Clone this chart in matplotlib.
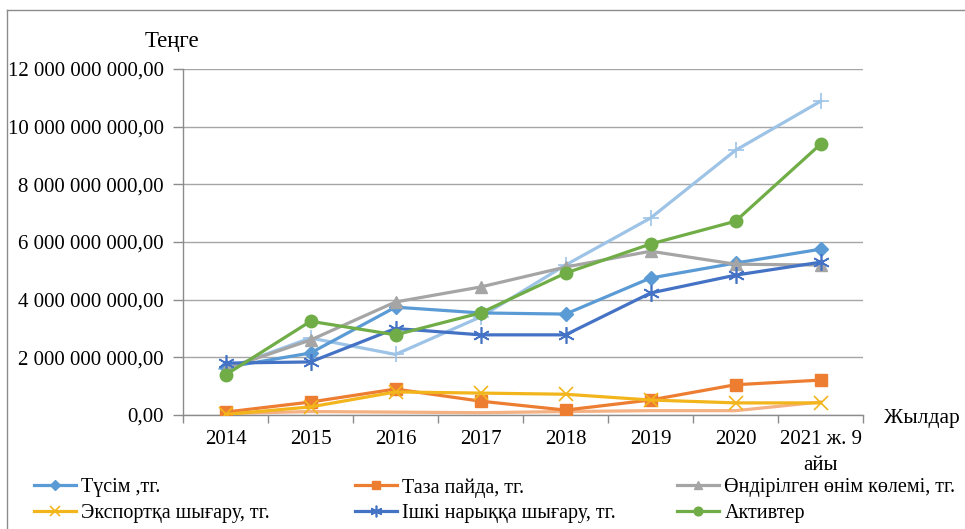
import matplotlib
matplotlib.use("Agg")
import matplotlib.pyplot as plt
from matplotlib.lines import Line2D
from matplotlib.ticker import FuncFormatter, FixedLocator

plt.rcParams['font.family'] = ['Liberation Serif', 'DejaVu Serif']

categories = ['2014', '2015', '2016', '2017', '2018', '2019', '2020', '2021 ж. 9\nайы']

tusim = [1.65e9, 2.15e9, 3.74e9, 3.54e9, 3.50e9, 4.75e9, 5.27e9, 5.75e9]
taza_paida = [0.10e9, 0.45e9, 0.90e9, 0.48e9, 0.17e9, 0.52e9, 1.05e9, 1.21e9]
ondirilgen = [1.60e9, 2.60e9, 3.92e9, 4.44e9, 5.13e9, 5.68e9, 5.23e9, 5.20e9]
eksport = [0.02e9, 0.28e9, 0.80e9, 0.76e9, 0.72e9, 0.52e9, 0.42e9, 0.42e9]
ishki = [1.80e9, 1.84e9, 3.00e9, 2.78e9, 2.78e9, 4.23e9, 4.85e9, 5.30e9]
aktivter = [1.39e9, 3.25e9, 2.78e9, 3.54e9, 4.92e9, 5.93e9, 6.72e9, 9.39e9]
extra_blue = [1.60e9, 2.67e9, 2.10e9, 3.40e9, 5.20e9, 6.83e9, 9.18e9, 10.88e9]
extra_pink = [0.05e9, 0.12e9, 0.10e9, 0.08e9, 0.12e9, 0.15e9, 0.15e9, 0.45e9]

labels = ['Түсім ,тг.', 'Таза пайда, тг.', 'Өндірілген өнім көлемі, тг.',
          'Экспортқа шығару, тг.', 'Ішкі нарыққа шығару, тг.', 'Активтер']

W, H = 965, 529
fig = plt.figure(figsize=(W / 100, H / 100), dpi=100)
ax = fig.add_axes([183 / W, 1 - 415 / H, (863 - 183) / W, (415 - 69) / H])

x = list(range(len(categories)))
lw = 2.3

ax.plot(x, extra_pink, color='#F4B183', lw=lw, zorder=2)
ax.plot(x, extra_blue, color='#9DC3E6', lw=lw, marker='+', ms=11, mew=1.2, zorder=3)

styles = [
    (tusim, '#5B9BD5', 'D', 7, None),
    (taza_paida, '#ED7D31', 's', 8, None),
    (ondirilgen, '#A5A5A5', '^', 9, None),
    (eksport, '#F2B51C', 'x', 10, 1.2),
    (ishki, '#4472C4', (6, 2, 0), 12, 1.2),
    (aktivter, '#70AD47', 'o', 9, None),
]
handles = []
for (vals, col, mk, ms, mew), lab in zip(styles, labels):
    kw = dict(color=col, lw=lw, marker=mk, ms=ms, zorder=4)
    if mew:
        kw['mew'] = mew
    ax.plot(x, vals, **kw)
    hkw = dict(color=col, lw=lw, marker=mk, ms=ms * 0.7)
    if mew:
        hkw['mew'] = mew
    handles.append(Line2D([], [], **hkw))

ax.set_xlim(-0.5, len(categories) - 0.5)
ax.set_ylim(0, 12e9)
ax.set_yticks([i * 2e9 for i in range(7)])

def fmt(v, pos):
    s = f"{int(round(v)):,}".replace(',', ' ')
    return s + ',00'

ax.yaxis.set_major_formatter(FuncFormatter(fmt))
ax.set_xticks(x)
ax.set_xticklabels(categories, linespacing=1.45)
ax.xaxis.set_minor_locator(FixedLocator([i - 0.5 for i in range(len(categories) + 1)]))
ax.tick_params(axis='x', which='major', length=0, labelsize=15, pad=11)
ax.tick_params(axis='x', which='minor', length=6, color='#8c8c8c', width=1)
ax.tick_params(axis='y', length=7, color='#8c8c8c', width=1, labelsize=15, pad=7)

ax.grid(axis='y', color='#a6a6a6', lw=1)
ax.set_axisbelow(True)
for s in ['top', 'right']:
    ax.spines[s].set_visible(False)
for s in ['left', 'bottom']:
    ax.spines[s].set_color('#8c8c8c')
    ax.spines[s].set_linewidth(1)

fig.text(172 / W, 1 - 42 / H, 'Теңге', fontsize=16.5, ha='center', va='center')
fig.text(922 / W, 1 - 419 / H, 'Жылдар', fontsize=15.5, ha='center', va='center')

col_x = [34, 355, 677]
order = [(0, 3), (1, 4), (2, 5)]
for cx, (a, b) in zip(col_x, order):
    fig.legend([handles[a], handles[b]], [labels[a], labels[b]],
               loc='upper left', bbox_to_anchor=(cx / W, 1 - 478 / H),
               frameon=False, fontsize=14.5, handlelength=2.1,
               handletextpad=0.25, borderaxespad=0, borderpad=0,
               labelspacing=0.32)

# chart area border (top and left edges visible)
fig.add_artist(Line2D([7 / W, 7 / W], [0, 1 - 10 / H], transform=fig.transFigure,
                      color='#8c8c8c', lw=1))
fig.add_artist(Line2D([7 / W, 1], [1 - 10 / H, 1 - 10 / H], transform=fig.transFigure,
                      color='#8c8c8c', lw=1))

fig.savefig('out.png', dpi=100)
